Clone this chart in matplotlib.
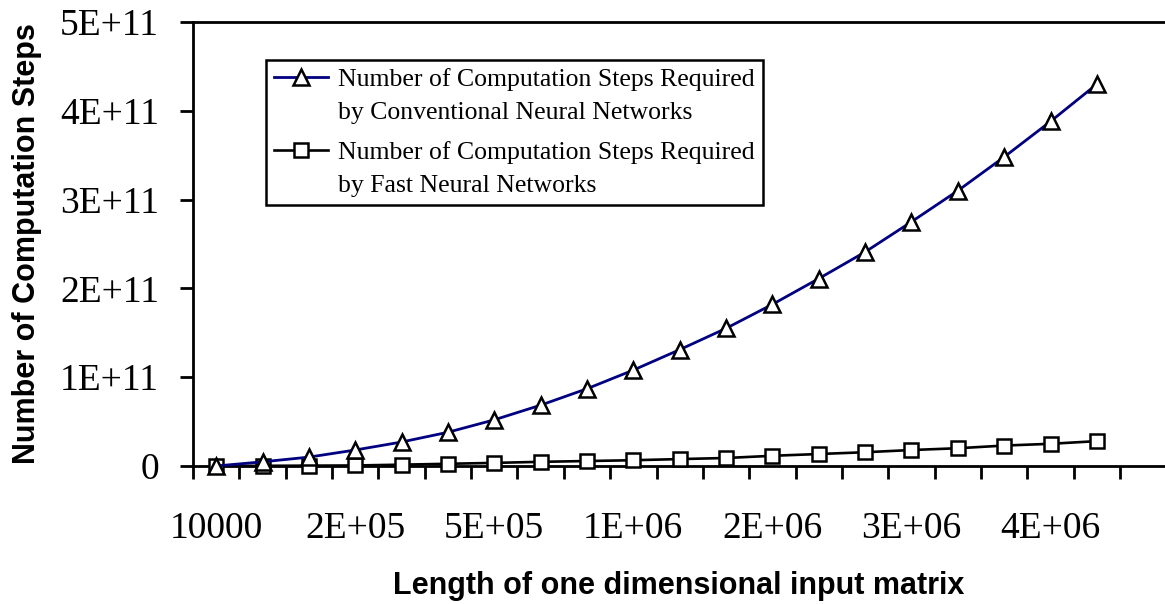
import numpy as np
import matplotlib
matplotlib.use("Agg")
import matplotlib.pyplot as plt
from matplotlib.ticker import FuncFormatter

# steps per input length (one value per category)
conventional = [0.0, 0.047e11, 0.10e11, 0.18e11, 0.27e11, 0.38e11, 0.52e11, 0.685e11,
                0.87e11, 1.08e11, 1.31e11, 1.55e11, 1.82e11, 2.11e11, 2.41e11,
                2.75e11, 3.10e11, 3.48e11, 3.88e11, 4.30e11]
fast = [0.001e11, 0.002e11, 0.004e11, 0.006e11, 0.015e11, 0.025e11, 0.035e11, 0.047e11,
        0.056e11, 0.065e11, 0.078e11, 0.09e11, 0.115e11, 0.135e11, 0.155e11,
        0.18e11, 0.20e11, 0.23e11, 0.25e11, 0.28e11]

x_labels = ["10000", "2E+05", "5E+05", "1E+06", "2E+06", "3E+06", "4E+06"]
label_every = 3

conv_name = "Number of Computation Steps Required\nby Conventional Neural Networks"
fast_name = "Number of Computation Steps Required\nby Fast Neural Networks"

serif = "Liberation Serif"
sans = "Liberation Sans"

fig = plt.figure(figsize=(11.65, 6.04), dpi=100)
ax = fig.add_axes([193 / 1165, (604 - 466) / 604, (1165 - 193) / 1165, 444 / 604])

x = np.arange(len(conventional))

line_fast, = ax.plot(x, fast, color="black", lw=1.9, marker="s", ms=9.5,
                     mfc="white", mec="black", mew=1.8, clip_on=False, zorder=3)
line_conv, = ax.plot(x, conventional, color="#000080", lw=2, marker="^", ms=11,
                     mfc="white", mec="black", mew=1.8, clip_on=False, zorder=4)

ax.set_xlim(-0.5, 20.47)
ax.set_ylim(0, 5e11)

for side in ["left", "bottom", "top"]:
    ax.spines[side].set_linewidth(2)
ax.spines["right"].set_visible(False)

# category boundaries get tick marks, labels sit under every 3rd category
ax.set_xticks(np.arange(-0.5, len(conventional), 1))
ax.set_xticklabels([])
ax.set_xticks(np.arange(0, len(conventional), label_every), minor=True)
ax.set_xticklabels(x_labels, minor=True)
ax.tick_params(axis="x", which="major", direction="out", length=9, width=2)
ax.tick_params(axis="x", which="minor", length=0, pad=33, labelsize=27,
               labelfontfamily=serif)

ax.set_yticks(np.arange(0, 5.5e11, 1e11))
ax.yaxis.set_major_formatter(FuncFormatter(
    lambda v, _: "0" if v == 0 else f"{v / 1e11:.0f}E+11"))
ax.tick_params(axis="y", direction="out", length=9.5, width=2, pad=15,
               labelsize=27, labelfontfamily=serif)

ax.set_xlabel("Length of one dimensional input matrix", fontsize=22,
              fontweight="bold", family=sans)
ax.xaxis.set_label_coords(0.5, -0.236)
ax.set_ylabel("Number of Computation Steps", fontsize=22,
              fontweight="bold", family=sans)
ax.yaxis.set_label_coords(-0.155, 0.5)

leg = ax.legend([line_conv, line_fast], [conv_name, fast_name],
                loc="upper left", bbox_to_anchor=(0.075, 0.914), borderaxespad=0,
                prop={"family": serif, "size": 18.5}, fancybox=False,
                framealpha=1, edgecolor="black", borderpad=0.32,
                handlelength=2.1, handletextpad=0.38, labelspacing=0.66)
leg.get_frame().set_linewidth(1.8)
for t in leg.get_texts():
    t.set_linespacing(1.63)
# put the marker beside the first line of each two-line label
for col in leg._legend_handle_box.get_children():
    for row in col.get_children():
        row.align = "top"

fig.savefig("out.png", dpi=100, facecolor="white")
